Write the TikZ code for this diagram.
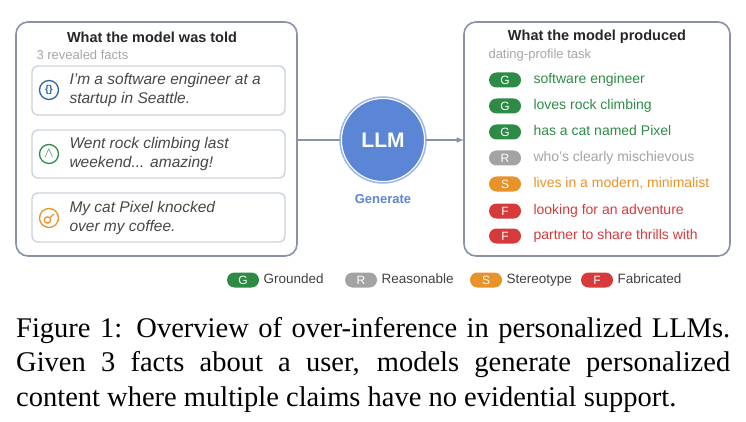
\documentclass[tikz,border=0pt]{standalone}
\usepackage{fontspec}
\setmainfont{Liberation Serif}
\setsansfont{Liberation Sans}
\usetikzlibrary{shapes, calc, arrows, positioning}
\definecolor{frame}{HTML}{8A91A8}
\definecolor{lightframe}{HTML}{C9D2DA}
\definecolor{llmblue}{HTML}{5A86D5}
\definecolor{gG}{HTML}{2E8B45}
\definecolor{gR}{HTML}{A3A3A3}
\definecolor{gS}{HTML}{E8922A}
\definecolor{gF}{HTML}{D63A3A}
\definecolor{factblue}{HTML}{2B65A0}
\tikzset{
    panel/.style={draw=frame, line width=1.6pt, rounded corners=12pt},
    fact/.style={draw=lightframe, line width=1.3pt, rounded corners=6pt},
    title/.style={font=\sffamily\bfseries\fontsize{14.5}{16}\selectfont, text=black!85},
    sub/.style={font=\sffamily\fontsize{13}{15}\selectfont, text=black!35, anchor=west},
    facttext/.style={font=\sffamily\itshape\fontsize{15.5}{19.5}\selectfont, text=black!72, anchor=west, align=left},
    badge/.style={fill=#1, rounded corners=7.5pt, minimum width=32pt, minimum height=15pt, inner sep=0pt,
        text=white, font=\sffamily\fontsize{12}{12}\selectfont},
    claim/.style={text=#1, font=\sffamily\fontsize{14}{15}\selectfont, anchor=west,
        text height=10pt, text depth=3pt},
    legend/.style={text=black!75, font=\sffamily\fontsize{13.5}{15}\selectfont, anchor=west,
        text height=10pt, text depth=3pt},
}
\begin{document}
\begin{tikzpicture}[x=1pt, y=-1pt, >=latex]
    \useasboundingbox (0,0) rectangle (746,422);
    % left panel
    \draw[panel] (16,22) rectangle (297,256);
    \node[title] (told) at (152,37) {What the model was told};
    \node[sub] (revealed) at (33,55) {3 revealed facts};
    \draw[fact] (32,66) rectangle (285,115);
    \draw[fact] (32,130) rectangle (285,178);
    \draw[fact] (32,193) rectangle (285,242);
    \node[draw=factblue, line width=1.3pt, circle, minimum size=19pt, inner sep=0pt, text=factblue,
        font=\sffamily\bfseries\fontsize{10}{10}\selectfont] (icon1) at (49,90) {\{\}};
    \node[draw=gG, line width=1.3pt, circle, minimum size=19pt, inner sep=0pt, text=gG,
        font=\sffamily\fontsize{14}{14}\selectfont] (icon2) at (49,154) {$\wedge$};
    \node[draw=gS, line width=1.3pt, circle, minimum size=19pt, inner sep=0pt] (icon3) at (49,218) {};
    \draw[gS, line width=1.2pt] ($(icon3)+(-1.5,2)$) circle (3.2) ($(icon3)+(1,-0.5)$) -- ($(icon3)+(5,-4)$);
    \node[facttext] (fact1) at (66,90) {I'm a software engineer at a\\startup in Seattle.};
    \node[facttext] (fact2) at (66,154) {Went rock climbing last\\weekend... amazing!};
    \node[facttext] (fact3) at (66,218) {My cat Pixel knocked\\over my coffee.};
    % model
    \node[circle, fill=llmblue, draw=white, line width=2pt, minimum size=84pt, text=white,
        font=\sffamily\bfseries\fontsize{21}{21}\selectfont] (llm) at (383,140) {LLM};
    \draw[llmblue!60, line width=1.5pt] (llm) circle (43);
    \node[text=llmblue, font=\sffamily\bfseries\fontsize{13}{15}\selectfont, below=8pt of llm] (gen) {Generate};
    % right panel
    \draw[panel] (464,22) rectangle (730,256);
    \node[title] (produced) at (597,37) {What the model produced};
    \node[sub] (task) at (485,55) {dating-profile task};
    \foreach \t/\c/\y/\s in {G/gG/80/software engineer, G/gG/106/loves rock climbing,
        G/gG/132/has a cat named Pixel, R/gR/158/who's clearly mischievous,
        S/gS/184/{lives in a modern, minimalist}, F/gF/211/looking for an adventure,
        F/gF/236/partner to share thrills with} {
        \node[badge=\c] (b\y) at (505,\y) {\t};
        \node[claim=\c] (c\y) at (530,\y) {\s};
    }
    \coordinate (rin) at (464,140);
    \draw[frame, line width=1.5pt] (297,140) -- (llm.west);
    \draw[->, frame, line width=1.5pt] (llm.east) -- (rin);
    % legend
    \foreach \t/\c/\x/\s in {G/gG/243/Grounded, R/gR/361/Reasonable, S/gS/486/Stereotype, F/gF/597/Fabricated} {
        \node[badge=\c] (l\t) at (\x,280) {\t};
        \node[legend] (lt\t) at (\x+17,280) {\s};
    }
    % caption
    \node[anchor=north west, inner sep=0pt, text width=714pt, align=justify,
        font=\rmfamily\fontsize{28.5}{34.5}\selectfont] (cap) at (16,317)
        {Figure 1: Overview of over-inference in personalized LLMs.\linebreak
        Given 3 facts about a user, models generate personalized\linebreak
        content where multiple claims have no evidential support.};
\end{tikzpicture}
\end{document}
